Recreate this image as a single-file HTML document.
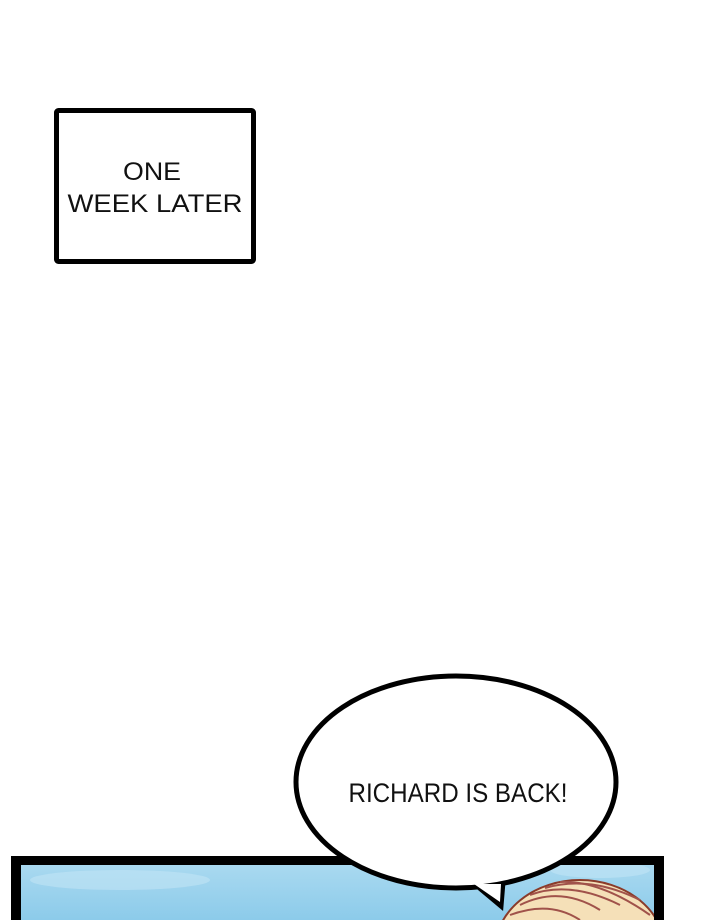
<!DOCTYPE html>
<html><head><meta charset="utf-8"><style>
html,body{margin:0;padding:0;background:#fff;width:720px;height:920px;overflow:hidden}
</style></head><body>
<svg width="720" height="920" viewBox="0 0 720 920" xmlns="http://www.w3.org/2000/svg" style="position:absolute;left:0;top:0;display:block">
<defs>
<linearGradient id="sky" x1="0" y1="0" x2="0" y2="1">
<stop offset="0" stop-color="#a9d9f0"/><stop offset="1" stop-color="#8ccbea"/>
</linearGradient>
<clipPath id="pc"><rect x="21" y="865" width="633" height="55"/></clipPath>
</defs>
<rect x="56.5" y="110.5" width="197" height="151" fill="#fff" stroke="#000" stroke-width="5" rx="2"/>
<text x="152" y="180" font-family="Liberation Sans, sans-serif" font-size="25" text-anchor="middle" fill="#111" textLength="58" lengthAdjust="spacingAndGlyphs">ONE</text>
<text x="155" y="212" font-family="Liberation Sans, sans-serif" font-size="25" text-anchor="middle" fill="#111" textLength="175" lengthAdjust="spacingAndGlyphs">WEEK LATER</text>
<rect x="11" y="856" width="653" height="64" fill="#000"/>
<rect x="21" y="865" width="633" height="55" fill="url(#sky)"/>
<g clip-path="url(#pc)">
<ellipse cx="120" cy="880" rx="90" ry="10" fill="#c2e4f5" opacity="0.6"/>
<ellipse cx="600" cy="870" rx="50" ry="8" fill="#c2e4f5" opacity="0.6"/>
<ellipse cx="580" cy="950" rx="85" ry="70" fill="#f5e0b8" stroke="#8a3b2a" stroke-width="2"/>
<g stroke="#a0524a" stroke-width="2" fill="none">
<path d="M520 905 Q560 885 600 910"/><path d="M530 895 Q570 880 620 905"/><path d="M545 888 Q590 875 640 900"/><path d="M510 915 Q550 900 580 920"/><path d="M560 882 Q600 880 650 915"/>
</g>
</g>
<path d="M470 880 L501 906 L503 882 Z" fill="#fff" stroke="#000" stroke-width="5" stroke-linejoin="miter"/>
<ellipse cx="456" cy="782" rx="160" ry="106" fill="#fff" stroke="#000" stroke-width="5"/>
<path d="M474 884 L500 902 L501 884 Z" fill="#fff"/>
<text x="458" y="802" font-family="Liberation Sans, sans-serif" font-size="27" text-anchor="middle" fill="#111" textLength="219" lengthAdjust="spacingAndGlyphs">RICHARD IS BACK!</text>
</svg>
</body></html>
